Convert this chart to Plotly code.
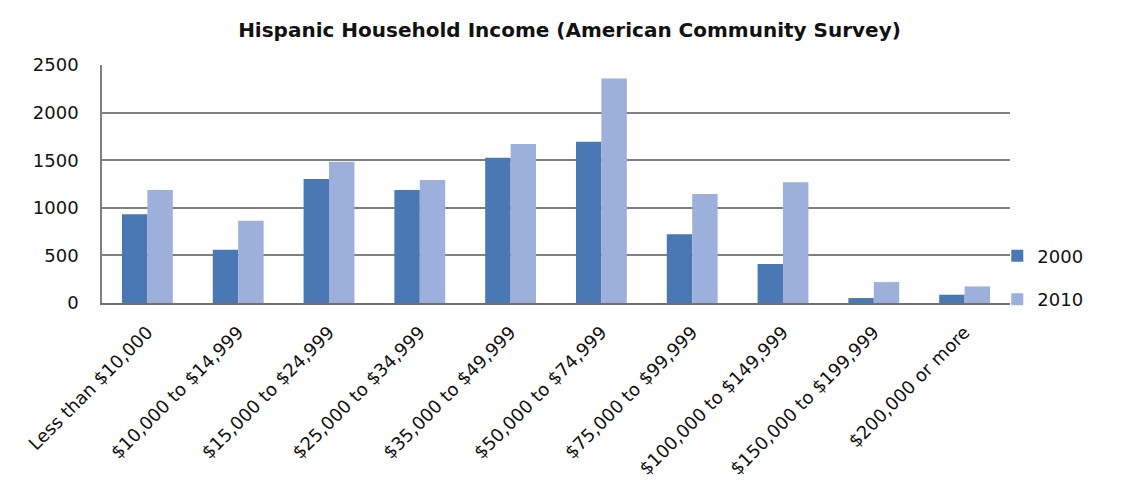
import plotly.graph_objects as go

categories = ["Less than $10,000", "$10,000 to $14,999", "$15,000 to $24,999",
              "$25,000 to $34,999", "$35,000 to $49,999", "$50,000 to $74,999",
              "$75,000 to $99,999", "$100,000 to $149,999", "$150,000 to $199,999",
              "$200,000 or more"]
values_2000 = [933, 559, 1303, 1188, 1526, 1694, 723, 409, 52, 87]
values_2010 = [1188, 863, 1484, 1292, 1670, 2358, 1146, 1268, 220, 174]
y_ticks = [0, 500, 1000, 1500, 2000, 2500]

FONT = "'DejaVu Sans', sans-serif"

fig = go.Figure()
fig.add_trace(go.Bar(name="2000", x=categories, y=values_2000,
                     marker=dict(color="#4A78B5", line=dict(width=0)),
                     legendgroup="a"))
fig.add_trace(go.Bar(name="2010", x=categories, y=values_2010,
                     marker=dict(color="#9CB0DB", line=dict(width=0)),
                     legendgroup="b"))

fig.update_layout(
    width=1123, height=488,
    margin=dict(l=94, r=121, t=57, b=193),
    paper_bgcolor="white", plot_bgcolor="white",
    barmode="group", bargap=0.44, bargroupgap=0,
    title=dict(text="<b>Hispanic Household Income (American Community Survey)</b>",
               x=0.5, xanchor="center", y=0.955, yanchor="middle",
               font=dict(family=FONT, size=20, color="#111111")),
    font=dict(family=FONT, size=16, color="#111111"),
    legend=dict(x=0.986, xanchor="left", y=0.275, yanchor="top",
                traceorder="grouped", tracegroupgap=17,
                font=dict(family=FONT, size=18, color="#111111"),
                itemwidth=30, bgcolor="rgba(0,0,0,0)"),
    xaxis=dict(tickangle=-45, showgrid=False, showline=True,
               linecolor="#707070", linewidth=1.5, ticks="",
               ticklabelstandoff=10,
               tickfont=dict(family=FONT, size=18, color="#111111")),
    yaxis=dict(range=[0, 2500], tickvals=y_ticks, showgrid=True,
               gridcolor="#808080", gridwidth=1.5, showline=True,
               linecolor="#808080", linewidth=1.5, ticks="",
               zeroline=False, ticklabelstandoff=18,
               tickfont=dict(family=FONT, size=18, color="#111111")),
)

fig.write_html("out.html")
